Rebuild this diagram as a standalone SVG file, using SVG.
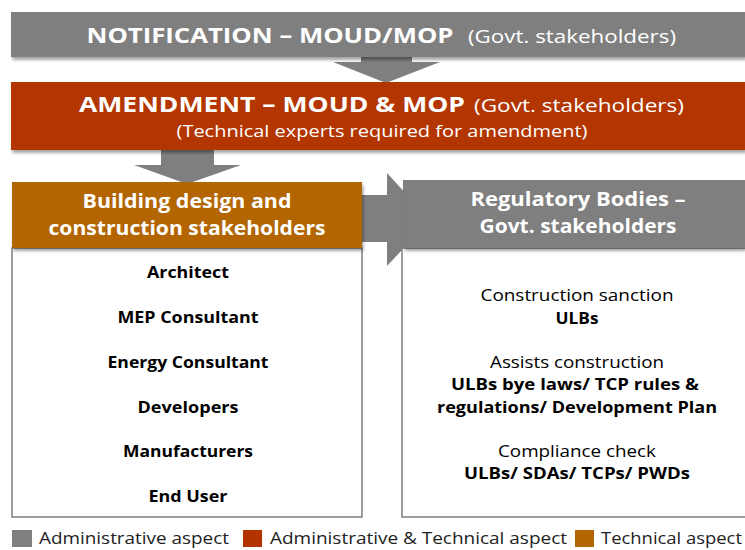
<svg xmlns="http://www.w3.org/2000/svg" width="745" height="550" viewBox="0 0 745 550">
<defs>
<filter id="sh" x="-5%" y="-10%" width="115%" height="140%">
<feDropShadow dx="1.5" dy="3" stdDeviation="1.8" flood-color="#000" flood-opacity="0.35"/>
</filter>
<style>
.gray{fill:#7f7f7f}
.red{fill:#b33400}
.orange{fill:#b26500}
.box{fill:#fff;stroke:#7f7f7f;stroke-width:1.5}
text{font-family:"Open Sans","Liberation Sans",sans-serif;text-anchor:middle}
.wt{fill:#fff}
.b{font-weight:bold}
.bk{fill:#000}
.lg{fill:#222;text-anchor:start;font-size:16px}
</style>
</defs>
<rect width="745" height="550" fill="#fff"/>

<g id="connectors" class="gray">
<polygon points="361,55 412,55 412,62 440,62 386,83 333,62 361,62"/>
<polygon points="161,148 214,148 214,165 241,165 187,184 134,165 161,165"/>
<polygon points="360,195 387,195 387,173 430,220 387,266 387,242 360,242"/>
</g>

<g id="notification">
<rect x="11" y="12" width="734" height="45" class="gray" filter="url(#sh)"/>
<text y="43" class="wt"><tspan x="270" class="b" font-size="22" textLength="367" lengthAdjust="spacingAndGlyphs">NOTIFICATION – MOUD/MOP</tspan><tspan x="572" font-size="18" textLength="208" lengthAdjust="spacingAndGlyphs">(Govt. stakeholders)</tspan></text>
</g>

<g id="amendment">
<rect x="11" y="82" width="734" height="68" class="red" filter="url(#sh)"/>
<text y="112" class="wt"><tspan x="272" class="b" font-size="22" textLength="386" lengthAdjust="spacingAndGlyphs">AMENDMENT – MOUD &amp; MOP</tspan><tspan x="579" font-size="18" textLength="210" lengthAdjust="spacingAndGlyphs">(Govt. stakeholders)</tspan></text>
<text x="382" y="137" class="wt" font-size="16" textLength="411" lengthAdjust="spacingAndGlyphs">(Technical experts required for amendment)</text>
</g>

<g id="design-stakeholders">
<rect x="12" y="248" width="350" height="269" class="box"/>
<rect x="12" y="182" width="350" height="66" class="orange" filter="url(#sh)"/>
<text x="187" y="208" class="wt b" font-size="19" textLength="209" lengthAdjust="spacingAndGlyphs">Building design and</text>
<text x="187" y="235" class="wt b" font-size="19" textLength="277" lengthAdjust="spacingAndGlyphs">construction stakeholders</text>
<g class="bk b" font-size="16">
<text x="188" y="278" textLength="82" lengthAdjust="spacingAndGlyphs">Architect</text>
<text x="188" y="323" textLength="141" lengthAdjust="spacingAndGlyphs">MEP Consultant</text>
<text x="188" y="368" textLength="161" lengthAdjust="spacingAndGlyphs">Energy Consultant</text>
<text x="188" y="413" textLength="101" lengthAdjust="spacingAndGlyphs">Developers</text>
<text x="188" y="457" textLength="130" lengthAdjust="spacingAndGlyphs">Manufacturers</text>
<text x="188" y="502" textLength="79" lengthAdjust="spacingAndGlyphs">End User</text>
</g>
</g>

<g id="regulatory">
<rect x="402" y="248" width="350" height="269" class="box"/>
<rect x="403" y="180" width="342" height="68" class="gray" filter="url(#sh)"/>
<text x="578" y="206" class="wt b" font-size="19" textLength="215" lengthAdjust="spacingAndGlyphs">Regulatory Bodies –</text>
<text x="578" y="233" class="wt b" font-size="19" textLength="197" lengthAdjust="spacingAndGlyphs">Govt. stakeholders</text>
<g class="bk" font-size="16">
<text x="577" y="301" textLength="193" lengthAdjust="spacingAndGlyphs">Construction sanction</text>
<text x="577" y="324" class="b" textLength="43" lengthAdjust="spacingAndGlyphs">ULBs</text>
<text x="577" y="368" textLength="174" lengthAdjust="spacingAndGlyphs">Assists construction</text>
<text x="575" y="390" class="b" textLength="248" lengthAdjust="spacingAndGlyphs">ULBs bye laws/ TCP rules &amp;</text>
<text x="577" y="413" class="b" textLength="280" lengthAdjust="spacingAndGlyphs">regulations/ Development Plan</text>
<text x="577" y="457" textLength="158" lengthAdjust="spacingAndGlyphs">Compliance check</text>
<text x="577" y="479" class="b" textLength="226" lengthAdjust="spacingAndGlyphs">ULBs/ SDAs/ TCPs/ PWDs</text>
</g>
</g>

<g id="legend">
<rect x="12" y="530" width="20" height="17" class="gray"/>
<text x="39" y="544" class="lg" textLength="190" lengthAdjust="spacingAndGlyphs">Administrative aspect</text>
<rect x="243" y="530" width="19" height="17" class="red"/>
<text x="270" y="544" class="lg" textLength="297" lengthAdjust="spacingAndGlyphs">Administrative &amp; Technical aspect</text>
<rect x="575" y="530" width="19" height="17" class="orange"/>
<text x="601" y="544" class="lg" textLength="141" lengthAdjust="spacingAndGlyphs">Technical aspect</text>
</g>
</svg>
